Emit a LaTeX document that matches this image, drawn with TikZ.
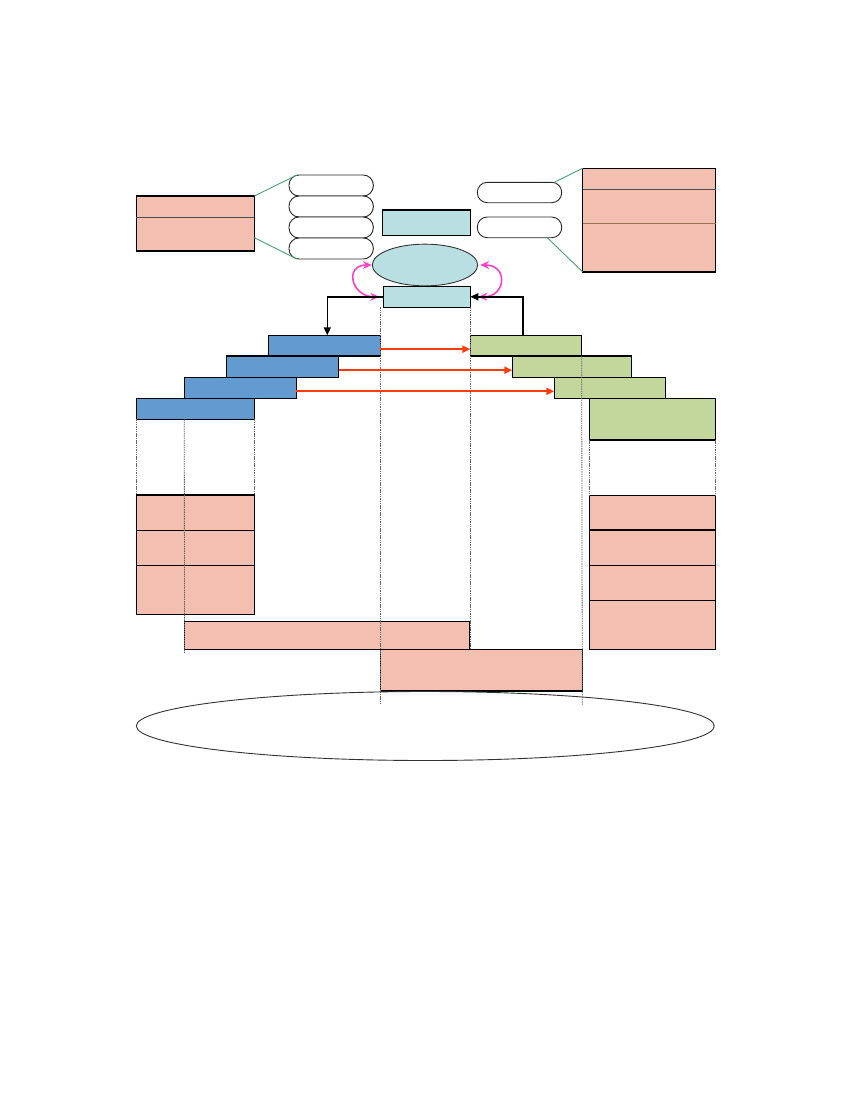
\documentclass[tikz,border=0pt]{standalone}
\usetikzlibrary{arrows.meta,shapes.geometric}
\definecolor{pinkc}{RGB}{242,191,177}
\definecolor{bluec}{RGB}{99,154,207}
\definecolor{greenc}{RGB}{195,214,155}
\definecolor{cyanc}{RGB}{185,223,227}
\definecolor{tealline}{RGB}{70,165,115}
\definecolor{magc}{RGB}{255,64,200}
\definecolor{orc}{RGB}{255,60,10}
\tikzset{
  box/.style={draw=black, line width=1.1pt, inner sep=0pt, outer sep=0pt, anchor=north west},
  pk/.style={box, fill=pinkc},
  bl/.style={box, fill=bluec},
  gr/.style={box, fill=greenc},
  cy/.style={box, fill=cyanc},
  pill/.style={draw=black!85, line width=0.9pt, rounded corners=10pt, inner sep=0pt, outer sep=0pt, anchor=north west, fill=white},
  divline/.style={draw=black!70, line width=1pt},
  tline/.style={draw=tealline, line width=0.9pt},
  guide/.style={draw=black!60, line width=0.8pt, dash pattern=on 1.5pt off 0.8pt},
  magarr/.style={draw=magc, line width=1.6pt, {Stealth[length=9pt,width=8pt]}-{Stealth[length=9pt,width=8pt]}},
  blkarr/.style={draw=black, line width=1.5pt, -{Triangle[length=8pt,width=7pt]}},
  orarr/.style={draw=orc, line width=2pt, -{Triangle[length=8pt,width=7pt]}},
}
\begin{document}
\begin{tikzpicture}[x=1pt,y=-1pt]
\useasboundingbox (0,0) rectangle (850,1100);
% top left
\node[pk, minimum width=118pt, minimum height=55pt] (lp) at (136.3,196) {};
\draw[divline] ([yshift=-21.3pt]lp.north west) -- ([yshift=-21.3pt]lp.north east);
\node[pill, minimum width=84.3pt, minimum height=21pt] (s1) at (289,175) {};
\node[pill, minimum width=84.3pt, minimum height=21pt] (s2) at (289,196) {};
\node[pill, minimum width=84.3pt, minimum height=21pt] (s3) at (289,217) {};
\node[pill, minimum width=84.3pt, minimum height=21pt] (s4) at (289,238) {};
\draw[tline] (lp.north east) -- ([xshift=8pt]s1.north west);
\draw[tline] ([yshift=13.3pt]lp.south east) -- ([xshift=8pt]s4.south west);
% centre
\node[cy, minimum width=87.8pt, minimum height=25.5pt] (topc) at (382.5,210) {};
\node[draw=black!80, line width=0.9pt, fill=cyanc, ellipse, inner sep=0pt, minimum width=105.4pt, minimum height=41.7pt] (ell) at (425,265) {};
\node[cy, minimum width=87pt, minimum height=21pt] (lowc) at (383.3,286.3) {};
% top right
\node[pill, minimum width=84.4pt, minimum height=20.4pt] (sr1) at (477.3,182.3) {};
\node[pill, minimum width=84.4pt, minimum height=20.7pt] (sr2) at (477.3,217) {};
\node[pk, minimum width=133pt, minimum height=103.7pt] (rp) at (582.7,168.3) {};
\draw[divline] ([yshift=-21pt]rp.north west) -- ([yshift=-21pt]rp.north east);
\draw[draw=black!45!pinkc!60!brown, line width=1pt] ([yshift=-55pt]rp.north west) -- ([yshift=-55pt]rp.north east);
\draw[tline] ([xshift=-7.4pt]sr1.north east) -- (rp.north west);
\draw[tline] ([xshift=-14.4pt]sr2.south east) -- (rp.south west);
% blue bars
\node[bl, minimum width=112pt, minimum height=20.7pt] (b1) at (268.3,335.3) {};
\node[bl, minimum width=112.4pt, minimum height=21.3pt] (b2) at (226.3,356) {};
\node[bl, minimum width=112pt, minimum height=21pt] (b3) at (184.3,377.3) {};
\node[bl, minimum width=118pt, minimum height=21pt] (b4) at (136.3,398.3) {};
% green bars
\node[gr, minimum width=111.4pt, minimum height=20.7pt] (g1) at (470.3,335.3) {};
\node[gr, minimum width=119pt, minimum height=21.3pt] (g2) at (512.3,356) {};
\node[gr, minimum width=111pt, minimum height=21pt] (g3) at (554.3,377.3) {};
\node[gr, minimum width=126pt, minimum height=41.7pt] (g4) at (589.3,398.3) {};
% left stack
\node[pk, minimum width=118pt, minimum height=35.3pt] (ls1) at (136.3,495) {};
\node[pk, minimum width=118pt, minimum height=35pt] (ls2) at (136.3,530.3) {};
\node[pk, minimum width=118pt, minimum height=49pt] (ls3) at (136.3,565.3) {};
% right stack
\node[pk, minimum width=126pt, minimum height=34.7pt] (rs1) at (589.3,495.3) {};
\node[pk, minimum width=126pt, minimum height=35.3pt] (rs2) at (589.3,530) {};
\node[pk, minimum width=126pt, minimum height=35pt] (rs3) at (589.3,565.3) {};
\node[pk, minimum width=126pt, minimum height=49pt] (rs4) at (589.3,600.3) {};
% bottom
\node[pk, minimum width=285.2pt, minimum height=27.6pt] (long) at (184.5,621.7) {};
\node[pk, minimum width=202pt, minimum height=41.7pt] (bot) at (380.3,649.3) {};
\node[draw=black!80, line width=0.9pt, ellipse, inner sep=0pt, minimum width=578pt, minimum height=69pt] (bigell) at (425.3,726) {};
% guides
\draw[guide] (b4.south west) -- (ls1.north west);
\draw[guide] (b3.west |- b4.south) -- ([yshift=-4pt]long.south west);
\draw[guide] (b4.south east) -- (ls1.north east);
\draw[guide] (bot.west |- lowc.south) -- ([yshift=-14pt]bot.south west);
\draw[guide] (lowc.south east) -- (lowc.south east |- bot.north);
\draw[guide] (g1.south east) -- ([yshift=-14pt]bot.south east);
\draw[guide] (g4.south west) -- (rs1.north west);
\draw[guide] (g4.south east) -- (rs1.north east);
% arrows
\draw[magarr] (ell.west) .. controls +(-28pt,0pt) and +(-28pt,0pt) .. ([xshift=-4pt]lowc.west);
\draw[magarr] ([xshift=2pt]ell.east) .. controls +(28pt,0pt) and +(28pt,0pt) .. ([xshift=8pt]lowc.east);
\draw[blkarr] (lowc.west) -| ([xshift=3pt]b1.north);
\draw[blkarr] ([xshift=-3pt]g1.north) |- (lowc.east);
\draw[orarr] ([yshift=-3.5pt]b1.east) -- ([yshift=-3.5pt]g1.west);
\draw[orarr] ([yshift=-3.5pt]b2.east) -- ([yshift=-3.5pt]g2.west);
\draw[orarr] ([yshift=-3.5pt]b3.east) -- ([yshift=-3.5pt]g3.west);
\end{tikzpicture}
\end{document}
